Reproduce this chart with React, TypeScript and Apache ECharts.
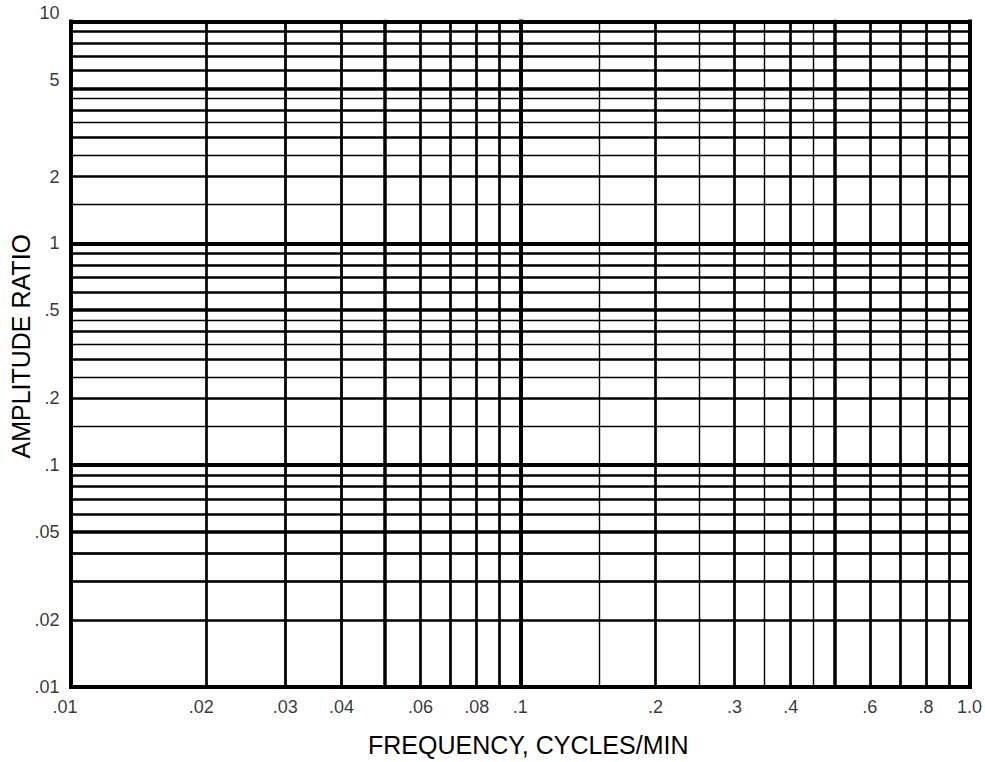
import React, { useEffect, useRef } from "react";
import * as echarts from "echarts";

// Axis ranges
const xRange = [0.01, 1];
const yRange = [0.01, 10];

// Tick labels
const xTickValues = [0.01, 0.02, 0.03, 0.04, 0.06, 0.08, 0.1, 0.2, 0.3, 0.4, 0.6, 0.8, 1.0];
const xTickLabels = [".01", ".02", ".03", ".04", ".06", ".08", ".1", ".2", ".3", ".4", ".6", ".8", "1.0"];
const yTickValues = [0.01, 0.02, 0.05, 0.1, 0.2, 0.5, 1, 2, 5, 10];
const yTickLabels = [".01", ".02", ".05", ".1", ".2", ".5", "1", "2", "5", "10"];

// Grid rulings (log paper)
const xDecadeLines = [0.01, 0.1, 1];
const xFiveLines = [0.05, 0.5];
const xWholeLines = [0.02, 0.03, 0.04, 0.06, 0.07, 0.08, 0.09, 0.2, 0.3, 0.4, 0.6, 0.7, 0.8, 0.9];
const xHalfLines = [0.015, 0.025, 0.035, 0.045, 0.15, 0.25, 0.35, 0.45];

const yDecadeLines = [0.01, 0.1, 1, 10];
const yFiveLines = [0.05, 0.5, 5];
const yWholeLines = [
  0.02, 0.03, 0.04, 0.06, 0.07, 0.08, 0.09,
  0.2, 0.3, 0.4, 0.6, 0.7, 0.8, 0.9,
  2, 3, 4, 6, 7, 8, 9,
];
const yHalfLines = [0.015, 0.025, 0.035, 0.045, 0.15, 0.25, 0.35, 0.45, 1.5, 2.5, 3.5, 4.5];

const xTitle = "FREQUENCY, CYCLES/MIN";
const yTitle = "AMPLITUDE RATIO";

const FONT = "'Liberation Sans', Arial, Helvetica, sans-serif";

export default function App() {
  const ref = useRef<HTMLDivElement>(null);

  useEffect(() => {
    if (!ref.current) return;
    const chart = echarts.init(ref.current, undefined, { renderer: "svg" });

    const lineItem = (axis: "xAxis" | "yAxis", v: number, width: number) => ({
      [axis]: v,
      lineStyle: { width, color: "#000", type: "solid", cap: "square" },
    });

    const gridLines = [
      ...xHalfLines.map((v) => lineItem("xAxis", v, 1.4)),
      ...yHalfLines.map((v) => lineItem("yAxis", v, 1.4)),
      ...xWholeLines.map((v) => lineItem("xAxis", v, 2.7)),
      ...yWholeLines.map((v) => lineItem("yAxis", v, 2.7)),
      ...xFiveLines.map((v) => lineItem("xAxis", v, 3.5)),
      ...yFiveLines.map((v) => lineItem("yAxis", v, 3.5)),
      ...xDecadeLines.map((v) => lineItem("xAxis", v, 4)),
      ...yDecadeLines.map((v) => lineItem("yAxis", v, 4)),
    ];

    const xLabelShift: Record<string, number> = { ".01": -6, ".02": -5 };
    const yLabelShift: Record<string, number> = { "10": -9, "5": -8 };

    const labelText = {
      color: "#000",
      fontFamily: FONT,
      fontSize: 18,
    };

    chart.setOption({
      animation: false,
      backgroundColor: "#fff",
      grid: { left: 67.5, right: 15.5, top: 21.5, bottom: 71, containLabel: false },
      xAxis: {
        type: "log",
        logBase: 10,
        min: xRange[0],
        max: xRange[1],
        axisLine: { show: false },
        axisTick: { show: false },
        axisLabel: { show: false },
        splitLine: { show: false },
        minorSplitLine: { show: false },
        name: xTitle,
        nameLocation: "middle",
        nameGap: 45,
        nameTextStyle: {
          color: "#000",
          fontFamily: FONT,
          fontSize: 25,
          padding: [0, 0, 0, 16],
        },
      },
      yAxis: {
        type: "log",
        logBase: 10,
        min: yRange[0],
        max: yRange[1],
        axisLine: { show: false },
        axisTick: { show: false },
        axisLabel: { show: false },
        splitLine: { show: false },
        minorSplitLine: { show: false },
        name: yTitle,
        nameLocation: "middle",
        nameGap: 38,
        nameTextStyle: {
          color: "#000",
          fontFamily: FONT,
          fontSize: 25,
          padding: [0, 0, 0, 16],
        },
      },
      series: [
        {
          type: "scatter",
          silent: true,
          clip: false,
          symbolSize: 1,
          itemStyle: { color: "rgba(0,0,0,0)" },
          data: xTickValues.map((v, i) => ({
            value: [v, yRange[0]],
            label: {
              show: true,
              position: "bottom",
              distance: 10,
              offset: [xLabelShift[xTickLabels[i]] || 0, 0],
              formatter: xTickLabels[i],
              ...labelText,
            },
          })),
          markLine: {
            silent: true,
            symbol: ["none", "none"],
            label: { show: false },
            emphasis: { disabled: true },
            data: gridLines,
          },
        },
        {
          type: "scatter",
          silent: true,
          clip: false,
          symbolSize: 1,
          itemStyle: { color: "rgba(0,0,0,0)" },
          data: yTickValues.map((v, i) => ({
            value: [xRange[0], v],
            label: {
              show: true,
              position: "left",
              distance: 11,
              offset: [0, yLabelShift[yTickLabels[i]] || 0],
              formatter: yTickLabels[i],
              ...labelText,
            },
          })),
        },
      ],
    });

    return () => chart.dispose();
  }, []);

  return (
    <div
      ref={ref}
      style={{ position: "fixed", left: 0, top: 0, width: 985, height: 762, background: "#fff" }}
    />
  );
}
